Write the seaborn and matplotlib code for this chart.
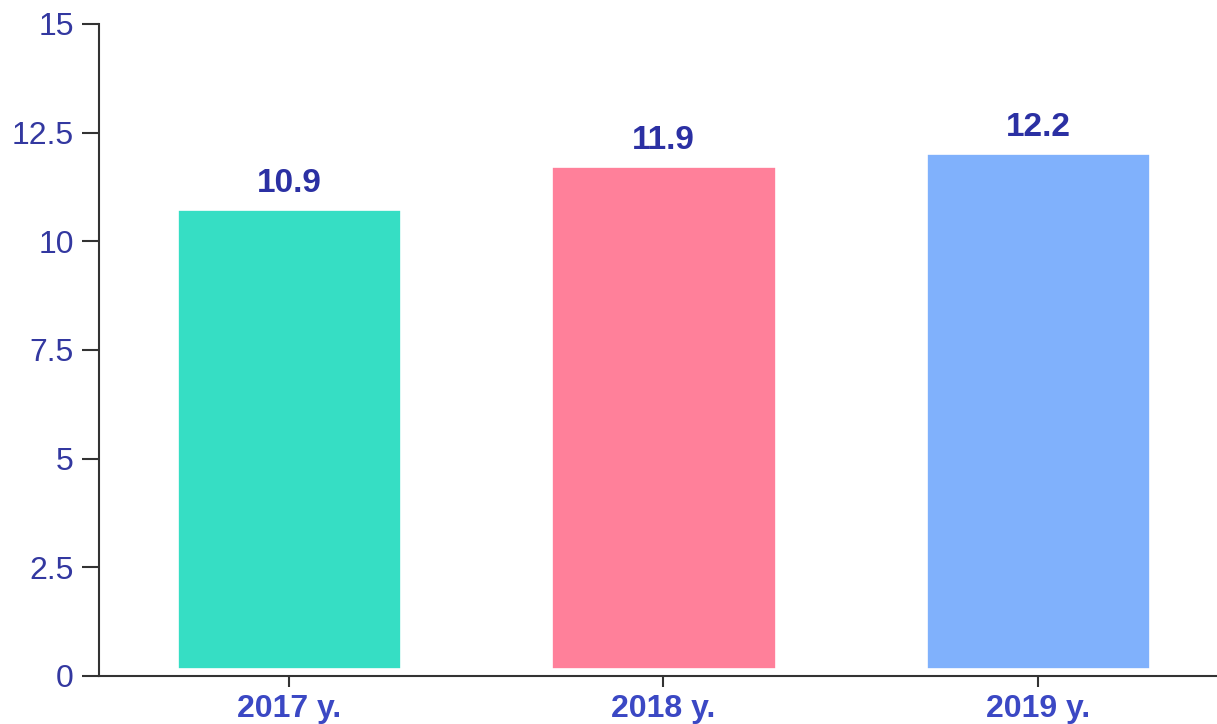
import numpy as np
import pandas as pd
import seaborn as sns
import matplotlib.pyplot as plt

# Chart data
years = ["2017 y.", "2018 y.", "2019 y."]
values = [10.9, 11.9, 12.2]
bar_colors = ["#36DEC4", "#FF809A", "#80B1FC"]
y_ticks = [0, 2.5, 5, 7.5, 10, 12.5, 15]
y_tick_labels = ["0", "2.5", "5", "7.5", "10", "12.5", "15"]

sns.set_style("white")
plt.rcParams["font.family"] = ["Liberation Sans", "DejaVu Sans"]

df = pd.DataFrame({"year": years, "value": values})

fig = plt.figure(figsize=(12.17, 7.24), dpi=100)
ax = fig.add_axes([0.0813, 0.0663, 0.9187, 0.9006])

# white edge trims the bars a little, like the original
sns.barplot(data=df, x="year", y="value", hue="year", palette=bar_colors,
            legend=False, width=0.637, edgecolor="white", linewidth=12,
            saturation=1, ax=ax)

for i, v in enumerate(values):
    ax.annotate(f"{v}", (i, v), xytext=(0, 3), textcoords="offset pixels",
                ha="center", va="bottom", fontsize=24, fontweight="bold",
                color="#2B30A3")

ax.set_xlim(-0.507, 2.478)
ax.set_ylim(0, 15)
ax.set_yticks(y_ticks)
ax.set_yticklabels(y_tick_labels)
ax.set_xlabel("")
ax.set_ylabel("")

sns.despine(ax=ax, top=True, right=True)
for side in ["left", "bottom"]:
    ax.spines[side].set_color("#333333")
    ax.spines[side].set_linewidth(1.5)

ax.tick_params(axis="y", length=12, width=1.5, color="#333333",
               labelsize=23, labelcolor="#3338A0", pad=6, left=True)
ax.tick_params(axis="x", length=8, width=1.5, color="#333333",
               labelsize=23, labelcolor="#3B48C4", pad=5, bottom=True)
for lbl in ax.get_xticklabels():
    lbl.set_fontweight("bold")

fig.savefig("out.png", dpi=100)
